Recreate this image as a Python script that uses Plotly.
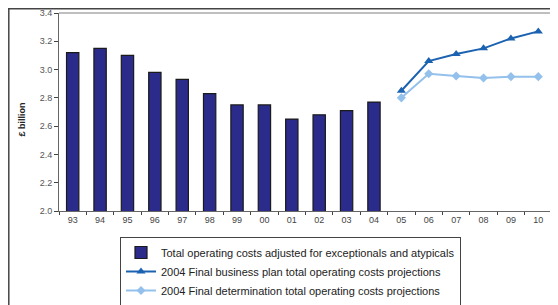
import plotly.graph_objects as go

years = ["93", "94", "95", "96", "97", "98", "99", "00", "01", "02", "03", "04",
         "05", "06", "07", "08", "09", "10"]
bar_years = ["93", "94", "95", "96", "97", "98", "99", "00", "01", "02", "03", "04"]
bar_values = [3.12, 3.15, 3.10, 2.98, 2.93, 2.83, 2.75, 2.75, 2.65, 2.68, 2.71, 2.77]
proj_years = ["05", "06", "07", "08", "09", "10"]
business_plan = [2.85, 3.06, 3.11, 3.15, 3.22, 3.27]
final_determination = [2.80, 2.97, 2.955, 2.94, 2.95, 2.95]

names = [
    "Total operating costs adjusted for exceptionals and atypicals",
    "2004 Final business plan total operating costs projections",
    "2004 Final determination total operating costs projections",
]
y_title = "£ billion"

FONT = "Liberation Sans, Arial, sans-serif"

# page has an 8px body margin; figure coordinates = page coordinates - 8
W, H = 550, 297
L, R, T, B = 51, 6, 5, 94
PW, PH = W - L - R, H - T - B


def px(x):
    return (x - L) / PW


def py(y):
    return (H - B - y) / PH


fig = go.Figure()
fig.add_trace(go.Bar(
    x=bar_years, y=bar_values, name=names[0],
    marker=dict(color="#2B2B8C", line=dict(color="#1a1a1a", width=1.2)),
))
fig.add_trace(go.Scatter(
    x=proj_years, y=business_plan, name=names[1], mode="lines+markers",
    line=dict(color="#1B62B0", width=2),
    marker=dict(symbol="triangle-up", size=8, color="#1B62B0"),
))
fig.add_trace(go.Scatter(
    x=proj_years, y=final_determination, name=names[2], mode="lines+markers",
    line=dict(color="#94C0EC", width=2),
    marker=dict(symbol="diamond", size=7, color="#94C0EC"),
))

fig.update_layout(
    width=W, height=H,
    margin=dict(l=L, r=R, t=T, b=B, autoexpand=False),
    paper_bgcolor="white", plot_bgcolor="white",
    font=dict(family=FONT, color="#333"),
    bargap=0.55,
    showlegend=True,
    legend=dict(
        xref="container", yref="container",
        x=112 / W, y=1 - 229 / H,
        xanchor="left", yanchor="top",
        bordercolor="#444", borderwidth=1,
        font=dict(family=FONT, size=11, color="#222"),
        tracegroupgap=0, itemwidth=30,
    ),
    xaxis=dict(
        type="category", categoryorder="array", categoryarray=years,
        showline=True, linecolor="#666", linewidth=1,
        ticks="outside", tickson="boundaries", ticklen=3, tickcolor="#444",
        tickfont=dict(family=FONT, size=9, color="#444"),
        showgrid=False, range=[-0.5, 17.5],
    ),
    yaxis=dict(
        range=[2.0, 3.4], dtick=0.2, tickformat=".1f",
        showline=True, linecolor="#666", linewidth=1,
        ticks="outside", ticklen=4, tickcolor="#444",
        tickfont=dict(family=FONT, size=9, color="#555"),
        showgrid=False, zeroline=False,
    ),
    annotations=[
        dict(text="<b>" + y_title + "</b>", xref="paper", yref="paper",
             x=px(13.5), y=py(112), xanchor="center", yanchor="middle",
             textangle=-90, showarrow=False,
             font=dict(family=FONT, size=9, color="#222")),
    ],
    shapes=[
        # plot area top and right border
        dict(type="line", xref="paper", yref="paper", x0=0, x1=1, y0=1, y1=1,
             line=dict(color="#aaa", width=1.5)),
        dict(type="line", xref="paper", yref="paper", x0=1, x1=1, y0=0, y1=1,
             line=dict(color="#999", width=1.5)),
        # outer frame (top and left)
        dict(type="line", xref="paper", yref="paper",
             x0=px(0), x1=px(546), y0=py(0.8), y1=py(0.8),
             line=dict(color="#444", width=1.5)),
        dict(type="line", xref="paper", yref="paper",
             x0=px(0.8), x1=px(0.8), y0=py(0.8), y1=py(H + 5),
             line=dict(color="#444", width=1.5)),
    ],
)

fig.write_html("out.html")
